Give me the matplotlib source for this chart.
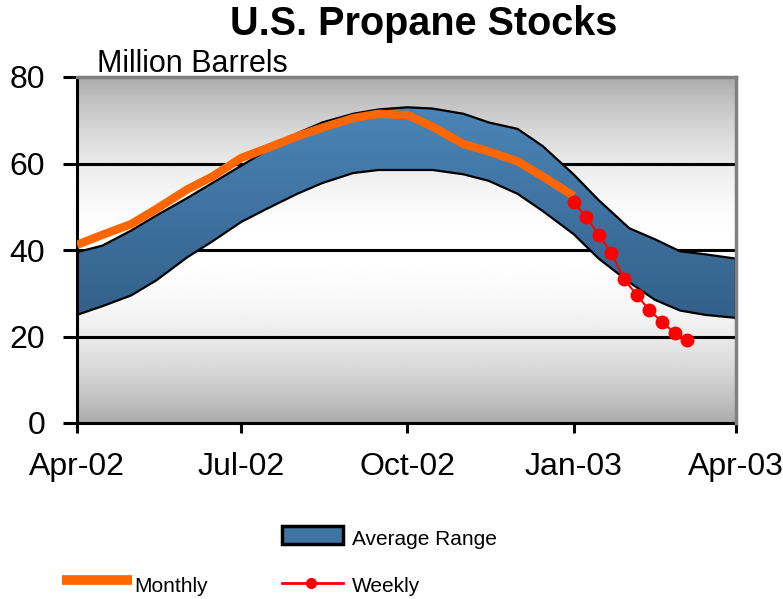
import numpy as np
import matplotlib
matplotlib.use("Agg")
import matplotlib.pyplot as plt
import matplotlib.dates as mdates
from matplotlib.colors import LinearSegmentedColormap
from matplotlib.patches import Rectangle
from matplotlib.lines import Line2D

plt.rcParams['font.family'] = ['Liberation Sans', 'DejaVu Sans']

# 5-year average range (semi-monthly reads)
band_dates = np.array(['2002-04-01', '2002-04-15', '2002-05-01', '2002-05-15', '2002-06-01',
                       '2002-06-15', '2002-07-01', '2002-07-15', '2002-08-01', '2002-08-15',
                       '2002-09-01', '2002-09-15', '2002-10-01', '2002-10-15', '2002-11-01',
                       '2002-11-15', '2002-12-01', '2002-12-15', '2003-01-01', '2003-01-15',
                       '2003-02-01', '2003-02-15', '2003-03-01', '2003-03-15', '2003-04-01'],
                      dtype='datetime64[D]')
band_upper = [39.5, 41.0, 44.5, 48.0, 52.0, 55.5, 59.5, 63.0, 67.0, 69.5, 71.5, 72.5, 73.0,
              72.7, 71.5, 69.5, 68.0, 64.0, 57.5, 51.5, 45.0, 42.5, 39.7, 39.0, 38.0]
band_lower = [25.0, 27.0, 29.5, 33.0, 38.3, 42.0, 46.5, 49.5, 53.0, 55.5, 57.8, 58.5, 58.5,
              58.5, 57.5, 56.0, 53.0, 49.0, 43.7, 38.0, 32.5, 28.5, 26.0, 25.0, 24.3]

monthly_dates = band_dates[:19]
monthly_vals = [41.2, 43.5, 46.0, 49.5, 54.0, 57.0, 61.3, 63.5, 66.3, 68.3, 70.5, 71.5,
                71.2, 68.5, 64.5, 62.8, 60.5, 57.0, 52.5]

weekly_dates = np.array(['2003-01-01', '2003-01-08', '2003-01-15', '2003-01-22', '2003-01-29',
                         '2003-02-05', '2003-02-12', '2003-02-19', '2003-02-26', '2003-03-05'],
                        dtype='datetime64[D]')
weekly_vals = [51.0, 47.6, 43.5, 39.3, 33.3, 29.6, 26.1, 23.4, 20.8, 19.2]

xticks = np.array(['2002-04-01', '2002-07-01', '2002-10-01', '2003-01-01', '2003-04-01'],
                  dtype='datetime64[D]')
xticklabels = ['Apr-02', 'Jul-02', 'Oct-02', 'Jan-03', 'Apr-03']
yticks = [0, 20, 40, 60, 80]

W, H = 783, 599
fig = plt.figure(figsize=(W / 100, H / 100), dpi=100)
ax = fig.add_axes([77 / W, 1 - 423 / H, 659 / W, 346 / H])

# gray background, light in the middle
t = np.linspace(-1, 1, 300)
gray = 168 + 87 * np.cos(np.pi / 2 * t) ** 0.8
bg = np.repeat((gray / 255.0)[:, None], 2, axis=1)
ax.imshow(bg, cmap='gray', vmin=0, vmax=1, extent=[0, 1, 0, 1], transform=ax.transAxes,
          aspect='auto', zorder=0, origin='lower')

for yv in [20, 40, 60]:
    ax.axhline(yv, color='black', lw=2.2, zorder=1)

# average range band with vertical blue gradient
poly = ax.fill_between(band_dates, band_lower, band_upper, facecolor='none', edgecolor='none', zorder=2)
blues = LinearSegmentedColormap.from_list('band', ['#33608a', '#4a84b6'])
x0 = mdates.date2num(band_dates[0])
x1 = mdates.date2num(band_dates[-1])
grad = np.linspace(0, 1, 200)[:, None]
im = ax.imshow(grad, cmap=blues, extent=[x0, x1, 24, 73], aspect='auto', origin='lower', zorder=2)
im.set_clip_path(poly.get_paths()[0], transform=ax.transData)
ax.plot(band_dates, band_upper, color='black', lw=1.6, zorder=3)
ax.plot(band_dates, band_lower, color='black', lw=1.6, zorder=3)
ax.plot([band_dates[-1], band_dates[-1]], [band_lower[-1], band_upper[-1]], color='black', lw=2.5, zorder=3)

ax.plot(monthly_dates, monthly_vals, color='#ff6600', lw=6, zorder=4, solid_capstyle='butt')
ax.plot(weekly_dates, weekly_vals, color='#ff0000', lw=1.5, marker='o', ms=9, zorder=5)

ax.set_xlim(x0, x1)
ax.set_ylim(0, 80)
ax.set_xticks(xticks)
ax.set_xticklabels(xticklabels)
ax.set_yticks(yticks)
ax.tick_params(axis='y', direction='out', length=10, width=2.2, pad=13, labelsize=23)
ax.tick_params(axis='x', direction='out', length=7, width=2.2, pad=14, labelsize=23)
for s in ['left', 'bottom']:
    ax.spines[s].set_color('black')
    ax.spines[s].set_linewidth(2.2)
for s in ['top', 'right']:
    ax.spines[s].set_color('#808080')
    ax.spines[s].set_linewidth(2.5)
    ax.spines[s].set_zorder(6)

fig.text(424 / W, 1 - 35 / H, 'U.S. Propane Stocks', ha='center', va='baseline',
         fontsize=28.5, fontweight='bold')
fig.text(97 / W, 1 - 72 / H, 'Million Barrels', ha='left', va='baseline', fontsize=22)

# legend
fig.add_artist(Rectangle((282 / W, 1 - 544 / H), 61 / W, 18 / H, transform=fig.transFigure,
                         facecolor='#3f74a3', edgecolor='black', lw=2.5))
fig.text(352 / W, 1 - 545 / H, 'Average Range', ha='left', va='baseline', fontsize=15)
fig.add_artist(Line2D([62 / W, 132 / W], [1 - 580 / H] * 2, transform=fig.transFigure,
                      color='#ff6600', lw=7, solid_capstyle='butt'))
fig.text(134 / W, 1 - 592 / H, 'Monthly', ha='left', va='baseline', fontsize=15)
fig.add_artist(Line2D([282 / W, 343 / W], [1 - 583 / H] * 2, transform=fig.transFigure,
                      color='#ff0000', lw=2))
fig.add_artist(Line2D([311 / W], [1 - 583 / H], transform=fig.transFigure,
                      color='#ff0000', marker='o', ms=7))
fig.text(352 / W, 1 - 592 / H, 'Weekly', ha='left', va='baseline', fontsize=15)

fig.savefig('out.png', dpi=100)
